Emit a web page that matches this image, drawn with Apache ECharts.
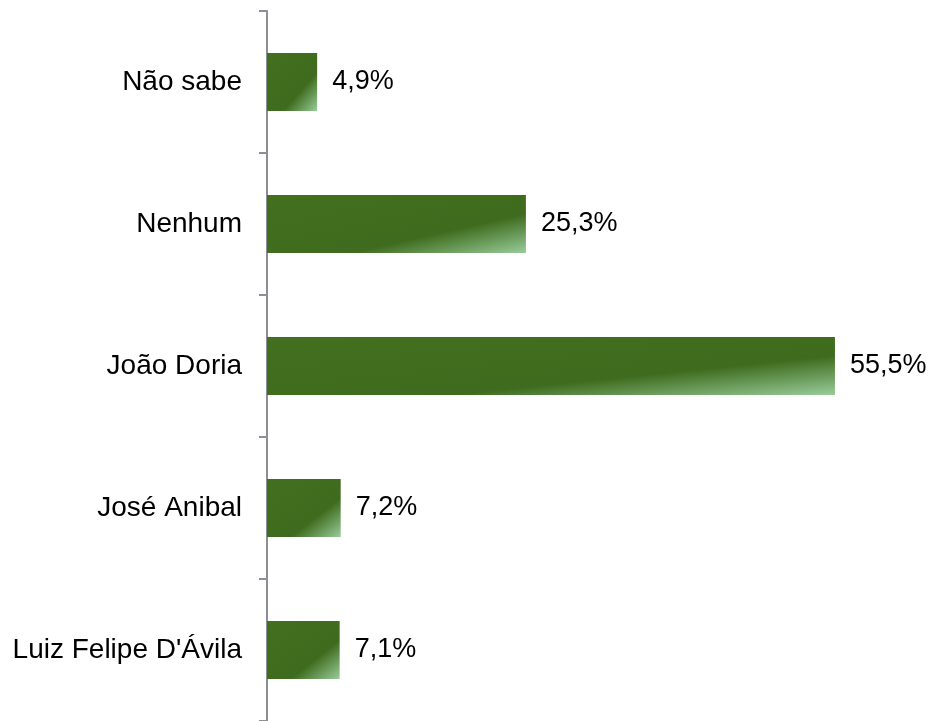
<!DOCTYPE html>
<html>
<head>
<meta charset="utf-8">
<script src="https://cdn.jsdelivr.net/npm/echarts@6/dist/echarts.min.js"></script>
<style>
  html, body { margin: 0; padding: 0; background: #fff; }
  #chart { width: 936px; height: 721px; }
</style>
</head>
<body>
<div id="chart"></div>
<script>
// categories from top to bottom
const categories = ['Não sabe', 'Nenhum', 'João Doria', 'José Anibal', "Luiz Felipe D'Ávila"]
const values = [4.9, 25.3, 55.5, 7.2, 7.1]

const AXIS_MAX = 60
const GRID_WIDTH = 614
const BAR_HEIGHT = 58

// corner-to-corner gradient, like office charts: lines of equal colour run
// along the bar's anti-diagonal whatever the bar's proportions
function barGradient(value) {
    const w = value / AXIS_MAX * GRID_WIDTH
    const h = BAR_HEIGHT
    const l2 = w * w + h * h
    return new echarts.graphic.LinearGradient(0, 0, 2 * h * h / l2, 2 * w * w / l2, [
        {offset: 0, color: '#42701f'},
        {offset: 0.66, color: '#3e6b1d'},
        {offset: 1, color: '#98cc9a'}
    ])
}

const chart = echarts.init(document.getElementById('chart'))

const option = {
    animation: false,
    grid: {
        left: 267,
        top: 11,
        width: GRID_WIDTH,
        height: 715
    },
    xAxis: {
        type: 'value',
        min: 0,
        max: AXIS_MAX,
        show: false
    },
    yAxis: {
        type: 'category',
        inverse: true,
        data: categories,
        axisLine: {
            show: true,
            lineStyle: {color: '#8c9096', width: 2}
        },
        axisTick: {
            show: true,
            length: 8,
            lineStyle: {color: '#8c9096', width: 2}
        },
        axisLabel: {
            margin: 25,
            color: '#000',
            fontFamily: 'Liberation Sans, Arial, sans-serif',
            fontSize: 28
        }
    },
    series: [
        {
            type: 'bar',
            data: values.map(v => ({value: v, itemStyle: {color: barGradient(v)}})),
            barWidth: BAR_HEIGHT,
            label: {
                show: true,
                position: 'right',
                distance: 15,
                color: '#000',
                fontFamily: 'Liberation Sans, Arial, sans-serif',
                fontSize: 27,
                formatter: function(p) {
                    return p.value.toFixed(1).replace('.', ',') + '%'
                }
            }
        }
    ]
}
chart.setOption(option)
</script>
</body>
</html>
